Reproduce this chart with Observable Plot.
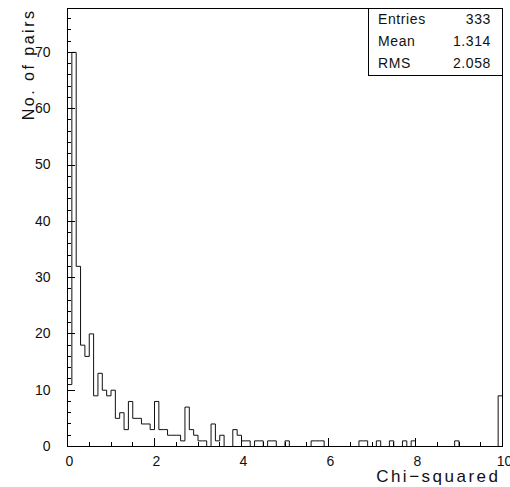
<!DOCTYPE html>
<html>
<head>
<meta charset="utf-8">
<script src="https://cdn.jsdelivr.net/npm/d3@7"></script>
<script src="https://cdn.jsdelivr.net/npm/@observablehq/plot@0.6"></script>
<style>
  html, body { margin: 0; padding: 0; background: #fff; }
  #wrap { position: relative; width: 510px; height: 487px; overflow: hidden; }
  #stats { position: absolute; left: 368px; top: 8px; width: 133px; height: 67px;
           border: 1px solid #000; border-top: none; border-right: none; box-sizing: content-box;
           font-family: "Liberation Sans", Arial, sans-serif; font-size: 14px; color: #111; }
  #stats .row { position: absolute; left: 9px; right: 11px; height: 20px; line-height: 20px; letter-spacing: 0.6px; }
  #stats .row span.v { position: absolute; right: 0; }
</style>
</head>
<body>
<div id="wrap"><div id="chart"></div><div id="stats"></div></div>
<script>
// Bin counts, 100 bins of width 0.1 on [0, 10]
const binWidth = 0.1;
const counts = [
  11, 70, 32, 18, 16, 20, 9, 13, 10, 9,
  10, 5, 6, 3, 8, 5, 5, 4, 4, 3,
  8, 3, 3, 2, 2, 2, 1, 7, 3, 2,
  1, 1, 0, 4, 1, 2, 0, 0, 3, 2,
  1, 1, 0, 1, 1, 0, 1, 1, 0, 0,
  1, 0, 0, 0, 0, 0, 1, 1, 1, 0,
  0, 0, 0, 0, 0, 0, 0, 1, 1, 0,
  0, 1, 0, 0, 1, 0, 0, 1, 0, 1,
  0, 0, 0, 0, 0, 0, 0, 0, 0, 1,
  0, 0, 0, 0, 0, 0, 0, 0, 0, 9
];
const xTicks = [0, 2, 4, 6, 8, 10];
const yTicks = [0, 10, 20, 30, 40, 50, 60, 70];
const xMinor = [0.5, 1, 1.5, 2.5, 3, 3.5, 4.5, 5, 5.5, 6.5, 7, 7.5, 8.5, 9, 9.5];
const yMinor = [2, 4, 6, 8, 12, 14, 16, 18, 22, 24, 26, 28, 32, 34, 36, 38, 42, 44, 46, 48, 52, 54, 56, 58, 62, 64, 66, 68, 72, 74, 76];
const statsLabels = ["Entries", "Mean", "RMS"];
const statsValues = ["333", "1.314", "2.058"];
const xTitle = "Chi\u2212squared";
const yTitle = "No. of pairs";

// step outline of the histogram
const outline = [{x: 0, y: 0}];
counts.forEach((c, i) => outline.push({x: i * binWidth, y: c}));
outline.push({x: counts.length * binWidth, y: counts[counts.length - 1]});
outline.push({x: counts.length * binWidth, y: 0});

const font = "Liberation Sans, Arial, sans-serif";
const W = 510, H = 487, mL = 67, mR = 8, mT = 8, mB = 41;

const chart = Plot.plot({
  width: W,
  height: H,
  marginLeft: mL,
  marginRight: mR,
  marginTop: mT,
  marginBottom: mB,
  x: {domain: [0, 10], axis: null},
  y: {domain: [0, 77.8], axis: null},
  marks: [
    Plot.line(outline, {x: "x", y: "y", curve: "step-after", stroke: "#111", strokeWidth: 1}),
    Plot.frame({stroke: "#000"}),
    // tick labels
    Plot.text(yTicks, {y: d => d, text: d => String(d), frameAnchor: "left", dx: -17, textAnchor: "end",
      fontFamily: font, fontSize: 14, fill: "#111"}),
    Plot.text(xTicks, {x: d => d, text: d => String(d), frameAnchor: "bottom", dy: 10, dx: 2, lineAnchor: "top",
      fontFamily: font, fontSize: 14, fill: "#111"}),
    // axis titles
    Plot.text([yTitle], {text: d => d, frameAnchor: "top-left", dx: -39, dy: 0, rotate: -90, textAnchor: "end",
      lineAnchor: "middle", fontFamily: font, fontSize: 16, fill: "#111"}),
    Plot.text([xTitle], {text: d => d, frameAnchor: "bottom-right", dx: -2, dy: 30, textAnchor: "end",
      lineAnchor: "middle", fontFamily: font, fontSize: 17, fill: "#111"})
  ]
});

const svg = d3.select(chart);
svg.selectAll("text")
  .filter(function() { return this.textContent === yTitle || this.textContent === xTitle; })
  .attr("letter-spacing", "2.5px");

// inward tick marks placed with the plot's own scales
const sx = chart.scale("x"), sy = chart.scale("y");
const tg = svg.append("g").attr("stroke", "#000").attr("stroke-width", 1).attr("shape-rendering", "crispEdges");
const x0 = mL, yb = H - mB;
yTicks.forEach(v => { const y = Math.round(sy.apply(v)) + 0.5;
  tg.append("line").attr("x1", x0).attr("x2", x0 + 8).attr("y1", y).attr("y2", y); });
yMinor.forEach(v => { const y = Math.round(sy.apply(v)) + 0.5;
  tg.append("line").attr("x1", x0).attr("x2", x0 + 4).attr("y1", y).attr("y2", y); });
xTicks.forEach(v => { const x = Math.round(sx.apply(v)) + 0.5;
  tg.append("line").attr("x1", x).attr("x2", x).attr("y1", yb).attr("y2", yb - 8); });
xMinor.forEach(v => { const x = Math.round(sx.apply(v)) + 0.5;
  tg.append("line").attr("x1", x).attr("x2", x).attr("y1", yb).attr("y2", yb - 4); });

document.getElementById("chart").appendChild(chart);

const stats = d3.select("#stats");
statsLabels.forEach((lab, i) => {
  const row = stats.append("div").attr("class", "row").style("top", (1 + i * 22) + "px");
  row.append("span").text(lab);
  row.append("span").attr("class", "v").text(statsValues[i]);
});
</script>
</body>
</html>
